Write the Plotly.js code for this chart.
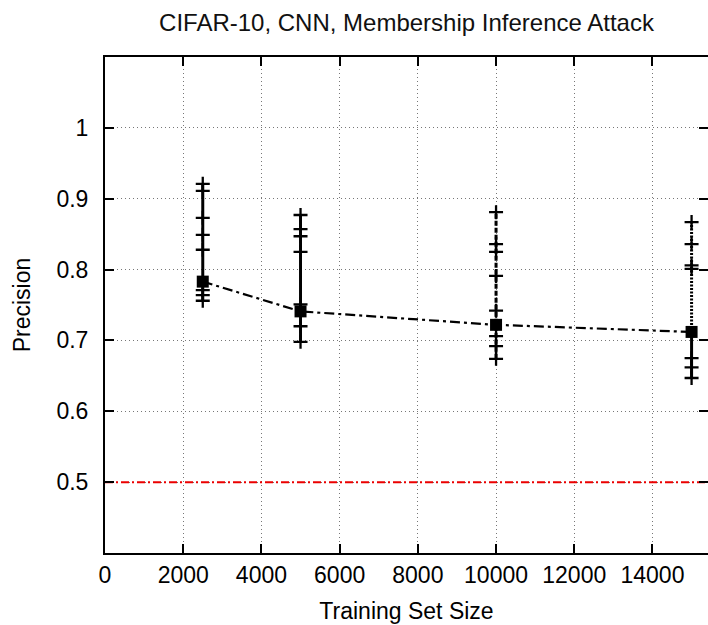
<!DOCTYPE html>
<html>
<head>
<meta charset="utf-8">
<script src="https://cdn.plot.ly/plotly-3.0.1.min.js"></script>
<style>
  html, body { margin: 0; padding: 0; background: #fff; }
  #chart { width: 708px; height: 625px; }
</style>
</head>
<body>
<div id="chart"></div>
<script>
// Training set sizes evaluated
const trainingSizes = [2500, 5000, 10000, 15000];

// Average attack precision at each training set size
const meanPrecision = [0.783, 0.741, 0.722, 0.712];

// Per-class attack precision at each training set size
const classPrecision2500  = [0.921, 0.911, 0.873, 0.849, 0.828, 0.771, 0.764, 0.756];
const classPrecision5000  = [0.877, 0.857, 0.847, 0.825, 0.751, 0.720, 0.698];
const classPrecision10000 = [0.881, 0.836, 0.825, 0.791, 0.742, 0.706, 0.692, 0.674];
const classPrecision15000 = [0.867, 0.836, 0.806, 0.801, 0.675, 0.662, 0.647];

// Random-guess baseline
const baselinePrecision = 0.5;

// Axis ticks
const xTickVals = [0, 2000, 4000, 6000, 8000, 10000, 12000, 14000];
const xTickText = ['0', '2000', '4000', '6000', '8000', '10000', '12000', '14000'];
const yTickVals = [0.5, 0.6, 0.7, 0.8, 0.9, 1.0];
const yTickText = ['0.5', '0.6', '0.7', '0.8', '0.9', '1'];

const classSets = [classPrecision2500, classPrecision5000, classPrecision10000, classPrecision15000];

const traces = [];

// Vertical spread of per-class precision for each size
const spreadStyles = ['solid', 'solid', '5px,2px', null];
classSets.forEach((vals, i) => {
  const x = trainingSizes[i];
  const lo = Math.min(...vals);
  const hi = Math.max(...vals);
  if (spreadStyles[i]) {
    traces.push({
      x: [x, x], y: [lo, hi], mode: 'lines', hoverinfo: 'skip',
      line: { color: '#000', width: 3, dash: spreadStyles[i] }
    });
  } else {
    // largest size: dotted above the mean, solid below it
    traces.push({
      x: [x, x], y: [meanPrecision[i], hi], mode: 'lines', hoverinfo: 'skip',
      line: { color: '#000', width: 3, dash: '2px,1.5px' }
    });
    traces.push({
      x: [x, x], y: [lo, meanPrecision[i]], mode: 'lines', hoverinfo: 'skip',
      line: { color: '#000', width: 3, dash: 'solid' }
    });
  }
  traces.push({
    x: vals.map(() => x), y: vals, mode: 'markers',
    marker: { symbol: 'cross-thin', size: 10, color: '#000', line: { color: '#000', width: 2.3 } }
  });
});

// Baseline
traces.push({
  x: [0, 15420], y: [baselinePrecision, baselinePrecision], mode: 'lines',
  line: { color: 'rgb(235,0,0)', width: 2, dash: '8px,3px,2px,3px' }
});

// Mean precision curve
traces.push({
  x: trainingSizes, y: meanPrecision, mode: 'lines+markers',
  line: { color: '#000', width: 2.2, dash: '10px,4px,3px,4px' },
  marker: { symbol: 'square', size: 12, color: '#000' }
});

const fontFamily = '"Liberation Sans", Arial, sans-serif';

const layout = {
  width: 708, height: 625,
  margin: { l: 105, r: 0, t: 57, b: 72 },
  paper_bgcolor: '#fff', plot_bgcolor: '#fff',
  showlegend: false,
  font: { family: fontFamily, color: '#000', size: 23 },
  title: {
    text: 'CIFAR-10, CNN, Membership Inference Attack',
    font: { family: fontFamily, size: 24, color: '#111' },
    xref: 'paper', x: 0.5, xanchor: 'center',
    yref: 'container', y: 1 - 23 / 625, yanchor: 'middle'
  },
  xaxis: {
    range: [0, 15420],
    tickmode: 'array', tickvals: xTickVals, ticktext: xTickText,
    ticks: 'inside', ticklen: 9, tickwidth: 2, tickcolor: '#000',
    showline: true, linewidth: 2, linecolor: '#000', mirror: 'allticks',
    showgrid: true, gridcolor: '#777', gridwidth: 1, griddash: '1px,3px',
    zeroline: false,
    tickfont: { size: 23 },
    title: { text: 'Training Set Size', font: { size: 23 }, standoff: 16 }
  },
  yaxis: {
    range: [0.4, 1.1],
    tickmode: 'array', tickvals: yTickVals, ticktext: yTickText,
    ticks: 'inside', ticklen: 9, tickwidth: 2, tickcolor: '#000',
    ticklabelstandoff: 10,
    showline: true, linewidth: 2, linecolor: '#000', mirror: 'allticks',
    showgrid: true, gridcolor: '#777', gridwidth: 1, griddash: '1px,3px',
    zeroline: false,
    tickfont: { size: 23 },
    title: { text: 'Precision', font: { size: 23 }, standoff: 19 }
  }
};

Plotly.newPlot('chart', traces, layout, { displayModeBar: false, staticPlot: true });
</script>
</body>
</html>
